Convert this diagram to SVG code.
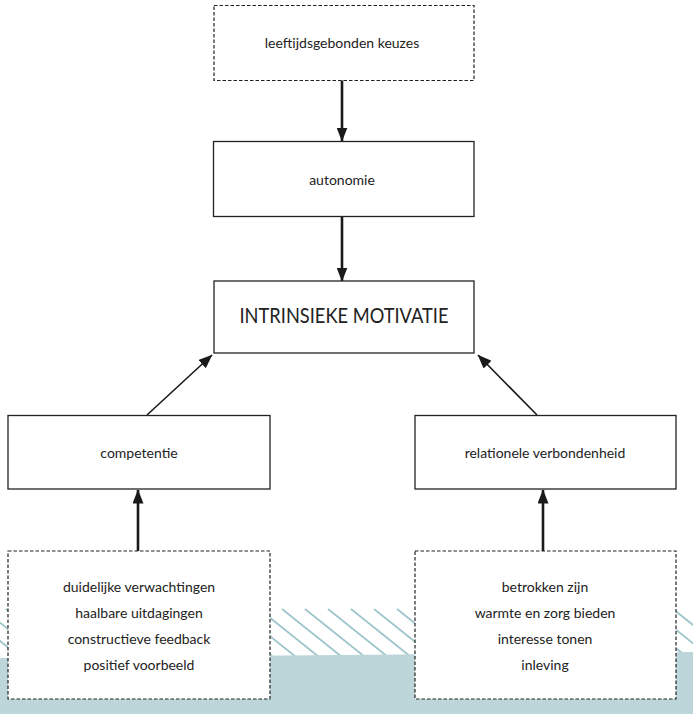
<svg xmlns="http://www.w3.org/2000/svg" width="693" height="714" viewBox="0 0 693 714">
<style>
.box{fill:#fff;stroke:#222;stroke-width:1.3}
.dash{fill:#fff;stroke:#222;stroke-width:1.2;stroke-dasharray:3.5 2}
.t{font-family:Lato,"Open Sans","Liberation Sans",sans-serif;font-size:14px;fill:#222;text-anchor:middle}
.big{font-size:21px}
.c{stroke:#1a1a1a;fill:none}
.v{stroke-width:2.6}
.d{stroke-width:1.6}
.hatch{stroke:#9fc6cb;stroke-width:1.8}
</style>
<defs>
<marker id="ah" markerUnits="userSpaceOnUse" markerWidth="14" markerHeight="11" refX="13.5" refY="5.5" orient="auto">
<path d="M0,0 L14,5.5 L0,11 z" fill="#1a1a1a"/>
</marker>
<clipPath id="hc"><rect x="0" y="608" width="693" height="52"/></clipPath>
</defs>
<g id="background">
<g clip-path="url(#hc)">
<path class="hatch" d="M-63,609 l62.5,50 M-40,609 l62.5,50 M-17,609 l62.5,50 M6,609 l62.5,50 M29,609 l62.5,50 M52,609 l62.5,50 M75,609 l62.5,50 M98,609 l62.5,50 M121,609 l62.5,50 M144,609 l62.5,50 M167,609 l62.5,50 M190,609 l62.5,50 M213,609 l62.5,50 M236,609 l62.5,50 M259,609 l62.5,50 M282,609 l62.5,50 M305,609 l62.5,50 M328,609 l62.5,50 M351,609 l62.5,50 M374,609 l62.5,50 M397,609 l62.5,50 M420,609 l62.5,50 M443,609 l62.5,50 M466,609 l62.5,50 M489,609 l62.5,50 M512,609 l62.5,50 M535,609 l62.5,50 M558,609 l62.5,50 M581,609 l62.5,50 M604,609 l62.5,50 M627,609 l62.5,50 M650,609 l62.5,50 M673,609 l62.5,50 M696,609 l62.5,50"/>
</g>
<polygon points="0,658 693,652 693,714 0,714" fill="#bdd6da"/>
</g>
<g id="connectors">
<line class="c v" x1="342" y1="80" x2="342" y2="141" marker-end="url(#ah)"/>
<line class="c v" x1="342" y1="216" x2="342" y2="281" marker-end="url(#ah)"/>
<line class="c d" x1="147" y1="415" x2="212" y2="355" marker-end="url(#ah)"/>
<line class="c d" x1="537" y1="415" x2="478" y2="355" marker-end="url(#ah)"/>
<line class="c v" x1="138" y1="551" x2="138" y2="490" marker-end="url(#ah)"/>
<line class="c v" x1="543" y1="551" x2="543" y2="490" marker-end="url(#ah)"/>
</g>
<g id="node-keuzes">
<rect class="dash" x="214" y="5.5" width="260" height="75"/>
<text class="t" x="342" y="48">leeftijdsgebonden keuzes</text>
</g>
<g id="node-autonomie">
<rect class="box" x="213.5" y="141.5" width="260.5" height="75"/>
<text class="t" x="342" y="185">autonomie</text>
</g>
<g id="node-motivatie">
<rect class="box" x="214" y="281" width="260" height="72"/>
<text class="t big" x="344" y="323" textLength="209" lengthAdjust="spacingAndGlyphs">INTRINSIEKE MOTIVATIE</text>
</g>
<g id="node-competentie">
<rect class="box" x="8" y="415.5" width="262" height="73.5"/>
<text class="t" x="139" y="458">competentie</text>
</g>
<g id="node-verbondenheid">
<rect class="box" x="415" y="415.5" width="261" height="73.5"/>
<text class="t" x="545" y="458">relationele verbondenheid</text>
</g>
<g id="node-competentie-bronnen">
<rect class="dash" x="8" y="551" width="262" height="148"/>
<text class="t" x="139" y="592">duidelijke verwachtingen</text>
<text class="t" x="139" y="618">haalbare uitdagingen</text>
<text class="t" x="139" y="644">constructieve feedback</text>
<text class="t" x="139" y="670">positief voorbeeld</text>
</g>
<g id="node-verbondenheid-bronnen">
<rect class="dash" x="415" y="551" width="261" height="148"/>
<text class="t" x="545" y="592">betrokken zijn</text>
<text class="t" x="545" y="618">warmte en zorg bieden</text>
<text class="t" x="545" y="644">interesse tonen</text>
<text class="t" x="545" y="670">inleving</text>
</g>
</svg>
